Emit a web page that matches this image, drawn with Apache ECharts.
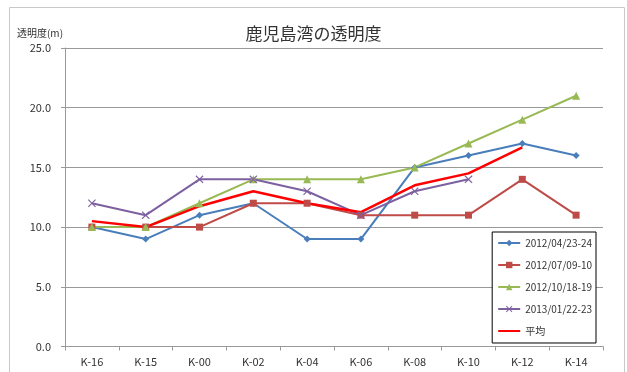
<!DOCTYPE html>
<html>
<head>
<meta charset="utf-8">
<script src="https://cdn.jsdelivr.net/npm/echarts@6/dist/echarts.min.js"></script>
<style>
html,body{margin:0;padding:0;background:#fff;}
#chart{width:627px;height:372px;}
</style>
</head>
<body>
<div id="chart"></div>
<script>
// Stations along the bay
const categories = ['K-16','K-15','K-00','K-02','K-04','K-06','K-08','K-10','K-12','K-14'];
// Transparency (m) per survey
const apr2012 = [10, 9, 11, 12, 9, 9, 15, 16, 17, 16];
const jul2012 = [10, 10, 10, 12, 12, 11, 11, 11, 14, 11];
const oct2012 = [10, 10, 12, 14, 14, 14, 15, 17, 19, 21];
const jan2013 = [12, 11, 14, 14, 13, 11, 13, 14, null, null];
const average = [10.5, 10, 11.75, 13, 12, 11.25, 13.5, 14.5, 16.67, null];
const seriesNames = ['2012/04/23-24','2012/07/09-10','2012/10/18-19','2013/01/22-23','平均'];
const yTicks = [0, 5, 10, 15, 20, 25];

const font = '"Noto Sans CJK JP", "Noto Sans", sans-serif';
const crossPath = 'path://M0,1L1,0L5,4L9,0L10,1L6,5L10,9L9,10L5,6L1,10L0,9L4,5Z';

function lineSeries(name, data, color, symbol, size, width) {
  return {
    name, type: 'line', data,
    symbol, symbolSize: size,
    showSymbol: size > 0,
    lineStyle: { color, width },
    itemStyle: { color },
    connectNulls: false,
    animation: false
  };
}

const chart = echarts.init(document.getElementById('chart'));
chart.setOption({
  backgroundColor: '#fff',
  textStyle: { fontFamily: font },
  title: {
    text: '鹿児島湾の透明度',
    left: 'center', top: 20,
    textStyle: { fontSize: 17, fontWeight: 'normal', color: '#333', fontFamily: font }
  },
  graphic: [{
    type: 'rect', silent: true,
    shape: { x: 9.5, y: 7.5, width: 615, height: 380 },
    style: { fill: 'none', stroke: '#c8c8c8', lineWidth: 1 }
  }],
  grid: { left: 65, right: 24, top: 48, bottom: 25.5 },
  legend: {
    orient: 'vertical',
    right: 31, top: 232,
    padding: [6, 4, 7, 5],
    itemGap: 12,
    itemWidth: 22, itemHeight: 8,
    borderColor: '#000', borderWidth: 1,
    backgroundColor: '#fff',
    data: [
      seriesNames[0], seriesNames[1], seriesNames[2], seriesNames[3],
      { name: seriesNames[4], itemStyle: { opacity: 0 } }
    ],
    textStyle: { fontSize: 10, color: '#333', fontFamily: font }
  },
  xAxis: {
    type: 'category',
    data: categories,
    boundaryGap: true,
    axisLine: { lineStyle: { color: '#999' } },
    axisTick: { show: true, length: 4, lineStyle: { color: '#999' } },
    axisLabel: { fontSize: 11, color: '#333', margin: 10, fontFamily: font }
  },
  yAxis: {
    type: 'value',
    min: yTicks[0], max: yTicks[yTicks.length - 1], interval: 5,
    name: '透明度(m)',
    nameLocation: 'end',
    nameGap: 10,
    nameTextStyle: { fontSize: 10, color: '#333', align: 'center', padding: [0, 0, 0, -50], fontFamily: font },
    axisLine: { show: true, lineStyle: { color: '#999' } },
    axisTick: { show: true, length: 4, inside: false, lineStyle: { color: '#999' } },
    axisLabel: { fontSize: 11, color: '#333', margin: 14, formatter: v => v.toFixed(1), fontFamily: font },
    splitLine: { lineStyle: { color: '#999', width: 1 } }
  },
  series: [
    lineSeries(seriesNames[0], apr2012, '#4A7EBB', 'diamond', 7, 2),
    lineSeries(seriesNames[1], jul2012, '#BE4B48', 'rect', 7, 2),
    lineSeries(seriesNames[2], oct2012, '#98B954', 'triangle', 8, 2),
    lineSeries(seriesNames[3], jan2013, '#7D60A0', crossPath, 8, 2),
    lineSeries(seriesNames[4], average, '#FF0000', 'circle', 0, 2.5)
  ]
});
</script>
</body>
</html>
